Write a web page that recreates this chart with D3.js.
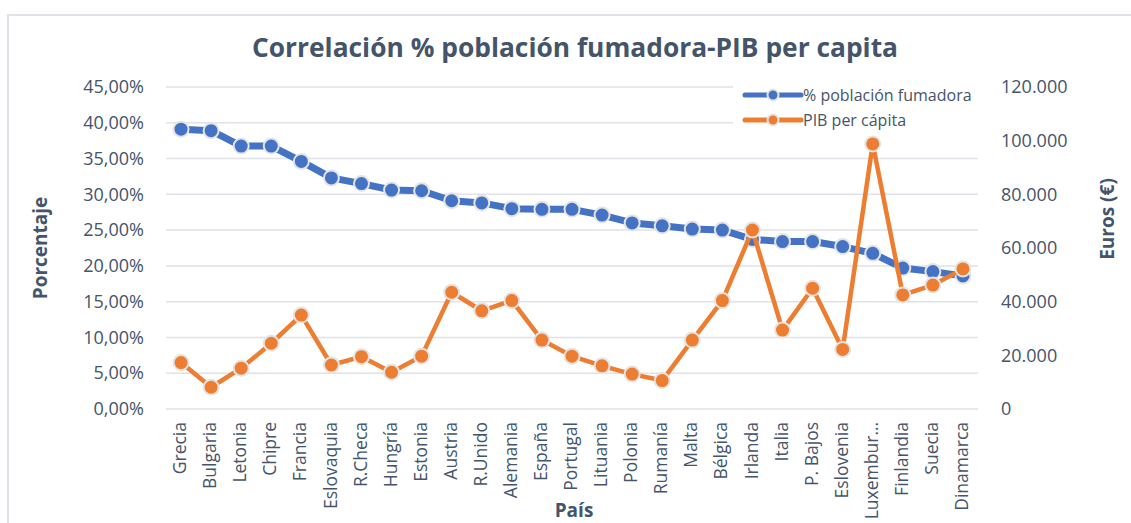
<!DOCTYPE html>
<html>
<head>
<meta charset="utf-8">
<script src="https://cdn.jsdelivr.net/npm/d3@7"></script>
<style>
  body { margin: 0; background: #fff; }
  text { font-family: "Open Sans", sans-serif; fill: #44546a; }
</style>
</head>
<body>
<svg id="chart" width="1131" height="523"></svg>
<script>
// datos
const paises = ['Grecia', 'Bulgaria', 'Letonia', 'Chipre', 'Francia', 'Eslovaquia', 'R.Checa', 'Hungría',
  'Estonia', 'Austria', 'R.Unido', 'Alemania', 'España', 'Portugal', 'Lituania', 'Polonia', 'Rumanía',
  'Malta', 'Bélgica', 'Irlanda', 'Italia', 'P. Bajos', 'Eslovenia', 'Luxembur…', 'Finlandia', 'Suecia', 'Dinamarca'];

const fumadores = [39.1, 38.9, 36.75, 36.75, 34.6, 32.3, 31.5, 30.6, 30.5, 29.1, 28.8, 28.0, 27.9, 27.9,
  27.1, 26.0, 25.6, 25.15, 25.0, 23.7, 23.4, 23.4, 22.7, 21.75, 19.7, 19.2, 18.6];

const pib = [17300, 8100, 15200, 24500, 35000, 16400, 19500, 13700, 19700, 43500, 36600, 40400, 25700, 19700,
  16100, 13000, 10600, 25700, 40400, 66700, 29400, 45000, 22200, 98800, 42500, 46200, 52200];

const pctTicks = [0, 5, 10, 15, 20, 25, 30, 35, 40, 45];
const eurTicks = [0, 20000, 40000, 60000, 80000, 100000, 120000];

const svg = d3.select('#chart');
const margin = { left: 166, right: 978, top: 87, bottom: 409 };

// borde del gráfico
svg.append('rect')
  .attr('x', 8).attr('y', 15)
  .attr('width', 1140).attr('height', 520)
  .attr('fill', 'none')
  .attr('stroke', '#dfe2e8')
  .attr('stroke-width', 2);

const x = d3.scaleBand().domain(paises).range([margin.left, margin.right]);
const yL = d3.scaleLinear().domain([0, 45]).range([margin.bottom, margin.top]);
const yR = d3.scaleLinear().domain([0, 120000]).range([margin.bottom, margin.top]);

// rejilla
svg.append('g')
  .selectAll('line')
  .data(pctTicks)
  .enter().append('line')
  .attr('x1', margin.left).attr('x2', margin.right)
  .attr('y1', d => yL(d)).attr('y2', d => yL(d))
  .attr('stroke', '#dfe2e8')
  .attr('stroke-width', 1.5);

// eje izquierdo
const fmtPct = d => d3.format('.2f')(d).replace('.', ',') + '%';
const axisL = svg.append('g')
  .attr('transform', `translate(${margin.left - 19},0)`)
  .call(d3.axisLeft(yL).tickValues(pctTicks).tickFormat(fmtPct).tickSize(0));
axisL.select('.domain').remove();
axisL.selectAll('text').attr('font-size', 18).attr('fill', '#44546a').attr('font-family', '"Open Sans", sans-serif');

// eje derecho
const fmtEur = d => d3.format(',')(d).replace(/,/g, '.');
const axisR = svg.append('g')
  .attr('transform', `translate(${margin.right + 20},0)`)
  .call(d3.axisRight(yR).tickValues(eurTicks).tickFormat(fmtEur).tickSize(0));
axisR.select('.domain').remove();
axisR.selectAll('text').attr('font-size', 18).attr('fill', '#44546a').attr('font-family', '"Open Sans", sans-serif');

// eje x
const axisX = svg.append('g')
  .attr('transform', `translate(0,${margin.bottom})`)
  .call(d3.axisBottom(x).tickSize(0));
axisX.select('.domain').remove();
axisX.selectAll('text')
  .attr('font-size', 17.5)
  .attr('fill', '#44546a')
  .attr('font-family', '"Open Sans", sans-serif')
  .attr('text-anchor', 'end')
  .attr('dy', '0.35em')
  .attr('transform', 'translate(-1,13) rotate(-90)')
  .attr('x', 0).attr('y', 0);

// series
const cx = d => x(d) + x.bandwidth() / 2;

function serie(values, scale, color, width) {
  const pts = paises.map((p, i) => [cx(p), scale(values[i])]);
  svg.append('path')
    .attr('d', d3.line()(pts))
    .attr('fill', 'none')
    .attr('stroke', color)
    .attr('stroke-width', width)
    .attr('stroke-linejoin', 'round');
  svg.append('g')
    .selectAll('circle')
    .data(pts)
    .enter().append('circle')
    .attr('cx', d => d[0])
    .attr('cy', d => d[1])
    .attr('r', 7.5)
    .attr('fill', color)
    .attr('stroke', '#e4e4e4')
    .attr('stroke-width', 2);
}

serie(fumadores, yL, '#4472c4', 7);
serie(pib, yR, '#ed7d31', 4.5);

// leyenda
const legend = svg.append('g').attr('transform', 'translate(733,80)');
legend.append('rect')
  .attr('width', 254).attr('height', 52)
  .attr('fill', '#fff');
const items = [
  { label: '% población fumadora', color: '#4472c4' },
  { label: 'PIB per cápita', color: '#ed7d31' }
];
items.forEach((it, i) => {
  const g = legend.append('g').attr('transform', `translate(0,${15 + i * 25})`);
  g.append('line')
    .attr('x1', 12).attr('x2', 68)
    .attr('stroke', it.color).attr('stroke-width', 5).attr('stroke-linecap', 'round');
  g.append('circle')
    .attr('cx', 40).attr('r', 5.5)
    .attr('fill', it.color).attr('stroke', '#e4e4e4').attr('stroke-width', 2);
  g.append('text')
    .attr('x', 70).attr('dy', '0.35em')
    .attr('font-size', 16)
    .text(it.label);
});

// títulos
svg.append('text')
  .attr('x', 575).attr('y', 57)
  .attr('text-anchor', 'middle')
  .attr('font-size', 27)
  .attr('font-weight', 'bold')
  .attr('textLength', 646)
  .attr('lengthAdjust', 'spacingAndGlyphs')
  .text('Correlación % población fumadora-PIB per capita');

svg.append('text')
  .attr('transform', 'translate(47,248) rotate(-90)')
  .attr('text-anchor', 'middle')
  .attr('font-size', 19)
  .attr('font-weight', 'bold')
  .text('Porcentaje');

svg.append('text')
  .attr('transform', 'translate(1114,219) rotate(-90)')
  .attr('text-anchor', 'middle')
  .attr('font-size', 19)
  .attr('font-weight', 'bold')
  .text('Euros (€)');

svg.append('text')
  .attr('x', 574).attr('y', 517)
  .attr('text-anchor', 'middle')
  .attr('font-size', 19)
  .attr('font-weight', 'bold')
  .text('País');
</script>
</body>
</html>
